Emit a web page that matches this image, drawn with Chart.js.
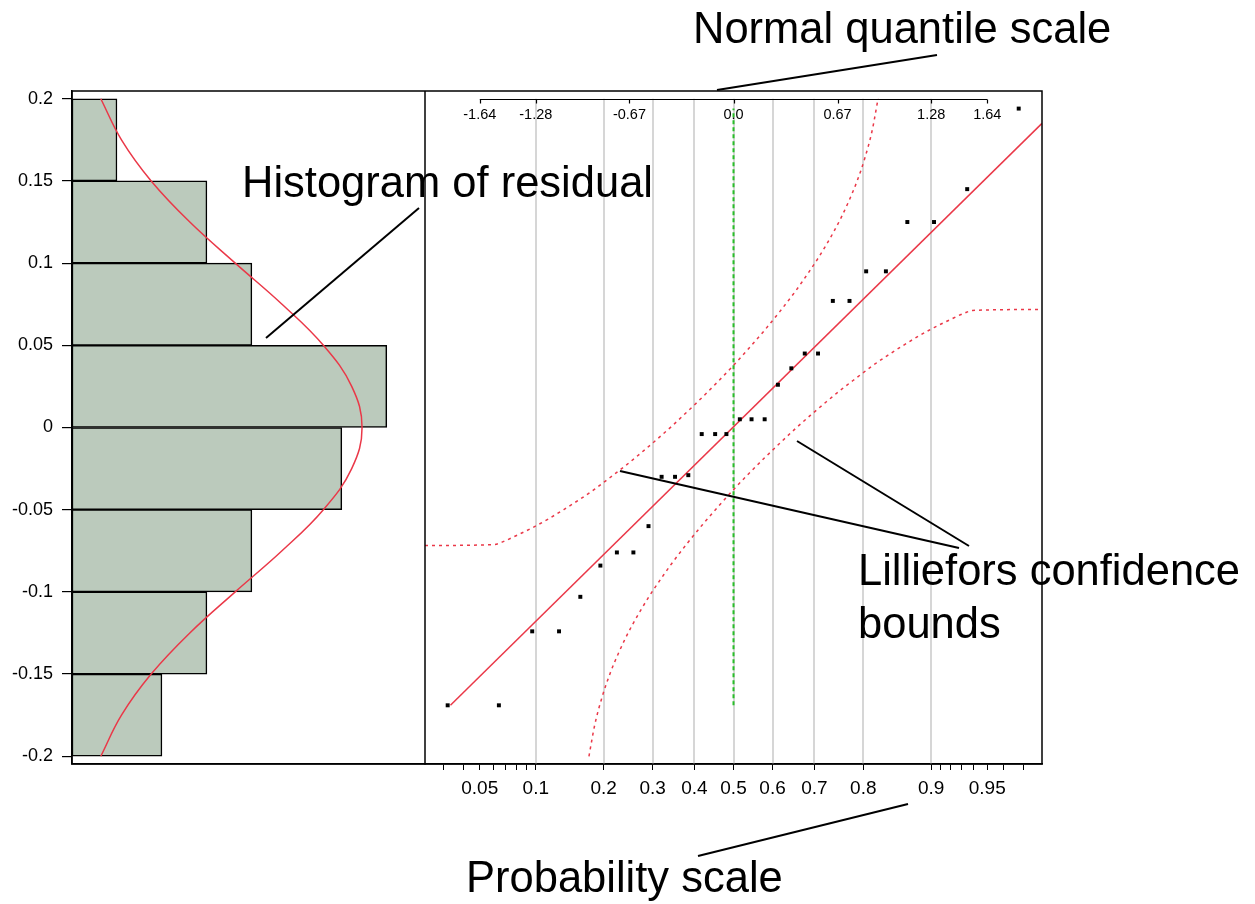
<!DOCTYPE html>
<html>
<head>
<meta charset="utf-8">
<title>Residual normal quantile plot</title>
<script src="https://cdn.jsdelivr.net/npm/chart.js@4.4.1/dist/chart.umd.min.js"></script>
<style>
  html, body { margin: 0; padding: 0; background: #fff; }
  #wrap { width: 1255px; height: 904px; }
</style>
</head>
<body>
<div id="wrap"><canvas id="qplot" width="1255" height="904"></canvas></div>
<script>
// sorted residuals and the normal quantile of each rank
const quantiles = [-1.853, -1.521, -1.305, -1.131, -0.993, -0.863, -0.756, -0.649, -0.551, -0.466,
  -0.379, -0.293, -0.206, -0.119, -0.046, 0.041, 0.117, 0.202, 0.288, 0.375,
  0.462, 0.548, 0.644, 0.752, 0.860, 0.988, 1.127, 1.300, 1.515, 1.849];
const residuals = [-0.169, -0.169, -0.124, -0.124, -0.103, -0.084, -0.076, -0.076, -0.060, -0.030,
  -0.030, -0.029, -0.004, -0.004, -0.004, 0.005, 0.005, 0.005, 0.026, 0.036,
  0.045, 0.045, 0.077, 0.077, 0.095, 0.095, 0.125, 0.125, 0.145, 0.194];

// histogram of residual (bin centres, counts)
const binCentres = [-0.175, -0.125, -0.075, -0.025, 0.025, 0.075, 0.125, 0.175];
const binCounts = [2, 3, 4, 6, 7, 4, 3, 1];

// fitted normal curve over the histogram
const curveValues = [-0.2, -0.175, -0.15, -0.125, -0.1, -0.075, -0.05, -0.025, 0,
  0.025, 0.05, 0.075, 0.1, 0.125, 0.15, 0.175, 0.2];
const curveCounts = [0.64, 1.10, 1.76, 2.62, 3.63, 4.67, 5.59, 6.22, 6.45,
  6.22, 5.59, 4.67, 3.63, 2.62, 1.76, 1.10, 0.64];

// fitted line
const fitQuantiles = [-1.835, 2.0];
const fitValues = [-0.169, 0.185];

// Lilliefors confidence bounds
const upperQuantiles = [-2.0, -1.55, -1.5, -1.4, -1.3, -1.2, -1.1, -1.0, -0.9, -0.8,
  -0.7, -0.6, -0.5, -0.4, -0.3, -0.2, -0.1, 0, 0.1, 0.2,
  0.3, 0.4, 0.45, 0.5, 0.55, 0.6, 0.65, 0.7, 0.75, 0.8,
  0.85, 0.9, 0.937];
const upperValues = [-0.0718, -0.0712, -0.0697, -0.0654, -0.0608, -0.0556, -0.0499, -0.0439, -0.0375, -0.0304,
  -0.0232, -0.0155, -0.0075, 0.0008, 0.0096, 0.0186, 0.0280, 0.0378, 0.0482, 0.0590,
  0.0705, 0.0827, 0.0893, 0.0961, 0.1032, 0.1109, 0.1191, 0.1281, 0.1382, 0.1496,
  0.1634, 0.1811, 0.2000];
const lowerQuantiles = [-0.937, -0.9, -0.85, -0.8, -0.75, -0.7, -0.65, -0.6, -0.55, -0.5,
  -0.45, -0.4, -0.3, -0.2, -0.1, 0, 0.1, 0.2, 0.3, 0.4,
  0.5, 0.6, 0.7, 0.8, 0.9, 1.0, 1.1, 1.2, 1.3, 1.4,
  1.5, 1.55, 2.0];
const lowerValues = [-0.2000, -0.1811, -0.1634, -0.1496, -0.1382, -0.1281, -0.1191, -0.1109, -0.1032, -0.0961,
  -0.0893, -0.0827, -0.0705, -0.0590, -0.0482, -0.0378, -0.0280, -0.0186, -0.0096, -0.0008,
  0.0075, 0.0155, 0.0232, 0.0304, 0.0375, 0.0439, 0.0499, 0.0556, 0.0608, 0.0654,
  0.0697, 0.0712, 0.0718];

// residual axis ticks
const yTicks = [-0.2, -0.15, -0.1, -0.05, 0, 0.05, 0.1, 0.15, 0.2];

// probability scale: tick positions on the quantile axis and their labels
const probQuantiles = [-1.881, -1.751, -1.645, -1.555, -1.476, -1.405, -1.341, -1.2816,
  -0.8416, -0.5244, -0.2533, 0, 0.2533, 0.5244, 0.8416, 1.2816,
  1.341, 1.405, 1.476, 1.555, 1.645, 1.751, 1.881];
const probLabels = ['', '', '0.05', '', '', '', '', '0.1',
  '0.2', '0.3', '0.4', '0.5', '0.6', '0.7', '0.8', '0.9',
  '', '', '', '', '0.95', '', ''];
const gridQuantiles = [-1.2816, -0.8416, -0.5244, -0.2533, 0, 0.2533, 0.5244, 0.8416, 1.2816];

// normal quantile scale along the top
const normTicks = [-1.645, -1.2816, -0.6745, 0, 0.6745, 1.2816, 1.645];
const normLabels = ['-1.64', '-1.28', '-0.67', '0.0', '0.67', '1.28', '1.64'];

const FONT = '"Liberation Sans", Arial, Helvetica, sans-serif';
const RED = 'rgb(234, 56, 72)';
const GREEN = 'rgb(40, 190, 40)';
const GRID = 'rgb(214, 214, 214)';
const BAR = 'rgb(187, 202, 188)';

// callout text and leader lines
const notes = [
  { lines: ['Normal quantile scale'], x: 693, y: 43, leaders: [[717, 90, 937, 55]] },
  { lines: ['Histogram of residual'], x: 242, y: 197, leaders: [[266, 338, 419, 208]] },
  { lines: ['Lilliefors confidence', 'bounds'], x: 858, y: 585,
    leaders: [[620, 471, 959, 548], [797, 441, 969, 546]] },
  { lines: ['Probability scale'], x: 466, y: 892, leaders: [[698, 856, 908, 804]] }
];

const pairs = (xs, ys) => xs.map((x, i) => ({ x: x, y: ys[i] }));

const framePlugin = {
  id: 'frame',
  beforeDatasetsDraw(chart) {
    const { ctx, chartArea, scales: { xq, y } } = chart;
    const top = y.getPixelForValue(yTicks[yTicks.length - 1]);
    ctx.save();
    ctx.strokeStyle = GRID;
    ctx.lineWidth = 2;
    gridQuantiles.forEach(q => {
      const px = Math.round(xq.getPixelForValue(q));
      ctx.beginPath();
      ctx.moveTo(px, top);
      ctx.lineTo(px, chartArea.bottom);
      ctx.stroke();
    });
    ctx.restore();
  },
  afterDatasetsDraw(chart) {
    const { ctx, chartArea, scales: { xq, y } } = chart;
    ctx.save();
    ctx.strokeStyle = '#000';
    ctx.lineWidth = 1.5;
    ctx.strokeRect(chartArea.left, chartArea.top, chartArea.width, chartArea.height);
    ctx.beginPath();
    ctx.moveTo(xq.left, chartArea.top);
    ctx.lineTo(xq.left, chartArea.bottom);
    ctx.stroke();

    // quantile axis inside the plot
    const ay = Math.round(y.getPixelForValue(yTicks[yTicks.length - 1])) + 0.5;
    const x0 = xq.getPixelForValue(normTicks[0]);
    const x1 = xq.getPixelForValue(normTicks[normTicks.length - 1]);
    ctx.lineWidth = 1.2;
    ctx.beginPath();
    ctx.moveTo(x0, ay);
    ctx.lineTo(x1, ay);
    normTicks.forEach(q => {
      const px = Math.round(xq.getPixelForValue(q)) + 0.5;
      ctx.moveTo(px, ay);
      ctx.lineTo(px, ay + 4);
    });
    ctx.stroke();
    ctx.fillStyle = '#000';
    ctx.font = '14.5px ' + FONT;
    ctx.textAlign = 'center';
    ctx.textBaseline = 'middle';
    normTicks.forEach((q, i) => {
      ctx.fillText(normLabels[i], xq.getPixelForValue(q), ay + 15);
    });
    ctx.restore();
  },
  afterDraw(chart) {
    const { ctx } = chart;
    ctx.save();
    ctx.fillStyle = '#000';
    ctx.strokeStyle = '#000';
    ctx.lineWidth = 2;
    ctx.font = '43.5px ' + FONT;
    ctx.textAlign = 'left';
    ctx.textBaseline = 'alphabetic';
    notes.forEach(n => {
      n.lines.forEach((t, i) => ctx.fillText(t, n.x, n.y + i * 53));
      n.leaders.forEach(l => {
        ctx.beginPath();
        ctx.moveTo(l[0], l[1]);
        ctx.lineTo(l[2], l[3]);
        ctx.stroke();
      });
    });
    ctx.restore();
  }
};

// lower "order" draws on top
new Chart(document.getElementById('qplot'), {
  type: 'scatter',
  data: {
    datasets: [
      {
        type: 'bar',
        order: 6,
        indexAxis: 'y',
        xAxisID: 'xh',
        yAxisID: 'y',
        data: pairs(binCounts, binCentres),
        backgroundColor: BAR,
        borderColor: '#000',
        borderWidth: 1.5,
        borderSkipped: false,
        grouped: false,
        barPercentage: 1,
        categoryPercentage: 1
      },
      {
        order: 5,
        xAxisID: 'xh',
        yAxisID: 'y',
        data: pairs(curveCounts, curveValues),
        showLine: true,
        tension: 0.4,
        borderColor: RED,
        borderWidth: 1.5,
        pointRadius: 0
      },
      {
        order: 4,
        xAxisID: 'xq',
        yAxisID: 'y',
        data: [{ x: 0, y: Math.min(...residuals) }, { x: 0, y: Math.max(...residuals) }],
        showLine: true,
        borderColor: GREEN,
        borderWidth: 2,
        borderDash: [4, 3],
        pointRadius: 0
      },
      {
        order: 3,
        xAxisID: 'xq',
        yAxisID: 'y',
        data: pairs(upperQuantiles, upperValues),
        showLine: true,
        cubicInterpolationMode: 'monotone',
        borderColor: RED,
        borderWidth: 1.5,
        borderDash: [3, 4],
        pointRadius: 0
      },
      {
        order: 3,
        xAxisID: 'xq',
        yAxisID: 'y',
        data: pairs(lowerQuantiles, lowerValues),
        showLine: true,
        cubicInterpolationMode: 'monotone',
        borderColor: RED,
        borderWidth: 1.5,
        borderDash: [3, 4],
        pointRadius: 0
      },
      {
        order: 2,
        xAxisID: 'xq',
        yAxisID: 'y',
        data: pairs(fitQuantiles, fitValues),
        showLine: true,
        borderColor: RED,
        borderWidth: 1.5,
        pointRadius: 0
      },
      {
        order: 1,
        xAxisID: 'xq',
        yAxisID: 'y',
        data: pairs(quantiles, residuals),
        pointStyle: 'rect',
        pointRadius: 2.8,
        backgroundColor: '#000',
        borderWidth: 0
      }
    ]
  },
  options: {
    responsive: false,
    animation: false,
    events: [],
    layout: { padding: { left: 0, top: 91, right: 213, bottom: 116 } },
    plugins: { legend: { display: false }, tooltip: { enabled: false } },
    scales: {
      y: {
        type: 'linear',
        position: 'left',
        min: -0.2047,
        max: 0.2047,
        offset: false,
        afterBuildTicks: s => { s.ticks = yTicks.map(v => ({ value: v })); },
        afterFit: s => { s.width = 72; },
        ticks: {
          color: '#000',
          font: { family: FONT, size: 18 },
          padding: 9,
          callback: v => String(Math.round(v * 100) / 100)
        },
        grid: { offset: false, drawOnChartArea: false, drawTicks: true, tickLength: 10, color: '#000', lineWidth: 1.2 },
        border: { display: true, color: '#000', width: 1.5 }
      },
      xh: {
        type: 'linear',
        position: 'bottom',
        stack: 'base',
        stackWeight: 353,
        min: 0,
        max: 7.85,
        ticks: { display: false },
        grid: { display: false },
        border: { display: true, color: '#000', width: 1.5 }
      },
      xq: {
        type: 'linear',
        position: 'bottom',
        stack: 'base',
        stackWeight: 617,
        min: -2,
        max: 2,
        afterBuildTicks: s => { s.ticks = probQuantiles.map(v => ({ value: v })); },
        afterFit: s => { s.height = 40; },
        ticks: {
          color: '#000',
          autoSkip: false,
          maxRotation: 0,
          font: { family: FONT, size: 19 },
          padding: 7,
          callback: (v, i) => probLabels[i]
        },
        grid: { drawOnChartArea: false, drawTicks: true, tickLength: 6, color: '#000', lineWidth: 1 },
        border: { display: true, color: '#000', width: 1.5 }
      }
    }
  },
  plugins: [framePlugin]
});
</script>
</body>
</html>
